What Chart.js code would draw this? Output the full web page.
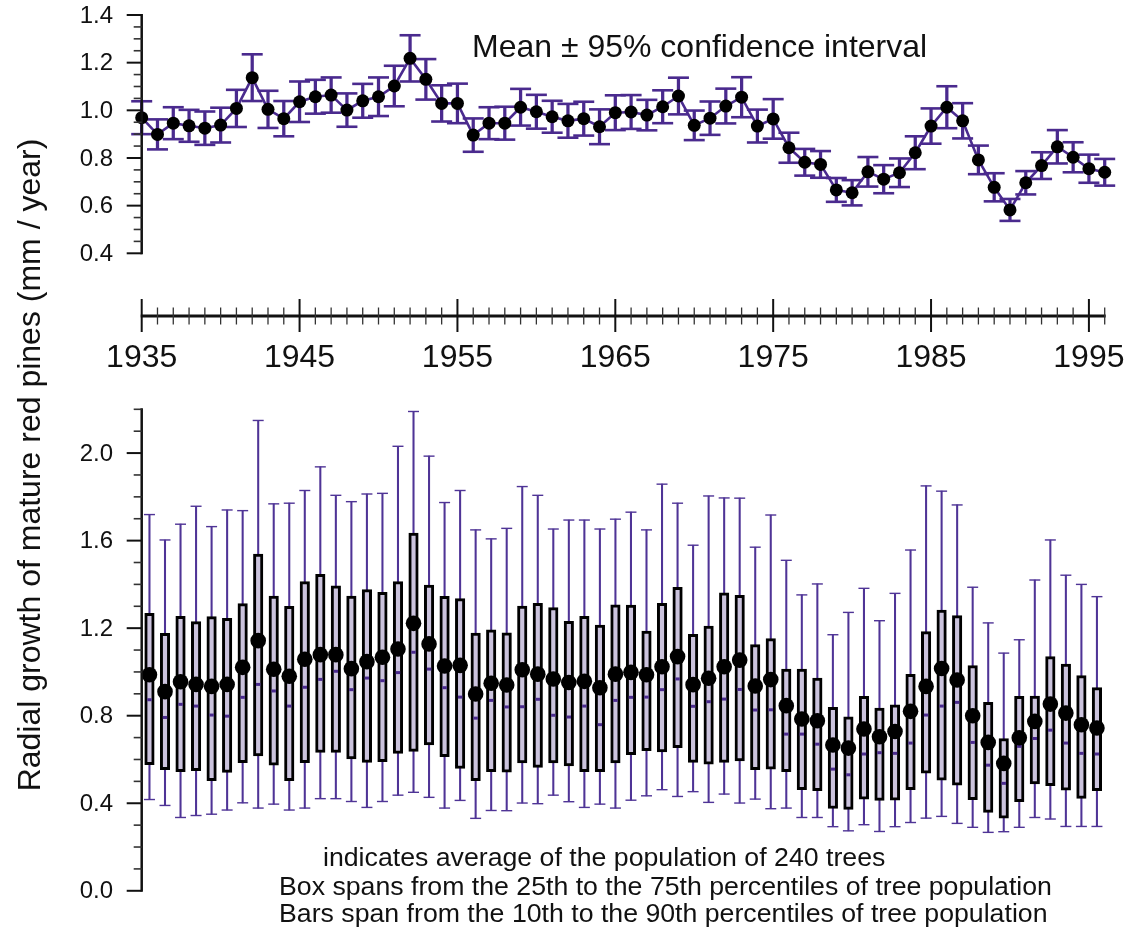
<!DOCTYPE html>
<html><head><meta charset="utf-8">
<script src="https://cdn.jsdelivr.net/npm/chart.js@4.4.1/dist/chart.umd.min.js"></script>
<style>
html,body{margin:0;padding:0;background:#fff;overflow:hidden}
#wrap{position:relative;width:1128px;height:930px}
canvas{position:absolute;left:0;top:0}
</style></head>
<body><div id="wrap"><canvas id="bot" width="1128" height="930"></canvas><canvas id="top" width="1128" height="930"></canvas></div>
<script>
// ---------- DATA ----------
const years = [1935,1936,1937,1938,1939,1940,1941,1942,1943,1944,1945,1946,1947,1948,1949,1950,1951,1952,1953,1954,1955,1956,1957,1958,1959,1960,1961,1962,1963,1964,1965,1966,1967,1968,1969,1970,1971,1972,1973,1974,1975,1976,1977,1978,1979,1980,1981,1982,1983,1984,1985,1986,1987,1988,1989,1990,1991,1992,1993,1994,1995,1996];

// top panel: mean and half-width of 95% CI
const meanGrowth = [0.969,0.899,0.946,0.935,0.925,0.938,1.008,1.137,1.004,0.965,1.036,1.057,1.064,1.001,1.040,1.057,1.102,1.218,1.130,1.029,1.029,0.896,0.946,0.946,1.013,0.994,0.973,0.956,0.965,0.931,0.990,0.993,0.980,1.015,1.060,0.937,0.967,1.018,1.055,0.934,0.964,0.843,0.782,0.773,0.666,0.654,0.742,0.711,0.738,0.822,0.934,1.013,0.956,0.792,0.677,0.582,0.696,0.768,0.847,0.803,0.755,0.740];
const ci95 = [0.069,0.063,0.067,0.067,0.070,0.073,0.078,0.098,0.078,0.074,0.085,0.071,0.074,0.070,0.071,0.081,0.085,0.097,0.085,0.076,0.083,0.070,0.067,0.069,0.077,0.071,0.067,0.071,0.071,0.073,0.073,0.071,0.064,0.069,0.077,0.062,0.070,0.073,0.084,0.069,0.083,0.063,0.056,0.056,0.050,0.053,0.062,0.059,0.060,0.069,0.074,0.088,0.074,0.060,0.059,0.046,0.049,0.056,0.070,0.063,0.059,0.056];

// bottom panel: percentiles, median and mean
const boxP90 = [1.719,1.603,1.675,1.757,1.664,1.740,1.737,2.149,1.768,1.771,1.829,1.937,1.807,1.778,1.813,1.816,2.031,2.190,1.986,1.774,1.829,1.649,1.608,1.656,1.847,1.807,1.653,1.694,1.694,1.653,1.698,1.730,1.649,1.858,1.771,1.579,1.804,1.795,1.794,1.570,1.717,1.510,1.352,1.402,1.170,1.272,1.382,1.234,1.359,1.557,1.850,1.826,1.763,1.387,1.224,1.086,1.147,1.420,1.603,1.442,1.400,1.344];
const boxP75 = [1.268,1.176,1.254,1.230,1.253,1.245,1.312,1.539,1.347,1.300,1.413,1.446,1.393,1.347,1.376,1.364,1.413,1.634,1.397,1.346,1.335,1.178,1.192,1.179,1.301,1.314,1.294,1.231,1.254,1.214,1.307,1.306,1.187,1.314,1.387,1.172,1.210,1.361,1.350,1.125,1.152,1.013,1.013,0.972,0.838,0.795,0.888,0.835,0.850,0.989,1.184,1.283,1.257,1.029,0.861,0.696,0.888,0.890,1.070,1.036,0.983,0.928];
const boxMedian = [0.873,0.792,0.852,0.844,0.803,0.798,0.884,0.943,0.913,0.844,0.930,0.966,1.003,0.919,0.972,0.960,0.997,1.090,1.013,0.928,0.885,0.789,0.870,0.840,0.841,0.875,0.802,0.794,0.844,0.759,0.870,0.884,0.885,0.919,0.968,0.843,0.864,0.876,0.920,0.826,0.827,0.716,0.716,0.670,0.556,0.530,0.625,0.631,0.628,0.675,0.803,0.844,0.861,0.678,0.574,0.491,0.660,0.696,0.734,0.675,0.628,0.625];
const boxP25 = [0.576,0.553,0.544,0.549,0.503,0.541,0.585,0.616,0.574,0.503,0.585,0.632,0.632,0.602,0.587,0.590,0.628,0.637,0.667,0.613,0.559,0.503,0.544,0.542,0.584,0.564,0.584,0.571,0.544,0.544,0.584,0.622,0.640,0.634,0.654,0.587,0.579,0.587,0.594,0.553,0.556,0.544,0.462,0.457,0.376,0.372,0.419,0.413,0.414,0.462,0.538,0.506,0.483,0.416,0.358,0.332,0.407,0.488,0.480,0.460,0.422,0.457];
const boxP10 = [0.417,0.390,0.335,0.344,0.350,0.369,0.402,0.378,0.396,0.369,0.378,0.421,0.421,0.408,0.381,0.408,0.437,0.450,0.427,0.378,0.413,0.331,0.367,0.366,0.401,0.398,0.437,0.407,0.381,0.396,0.378,0.414,0.434,0.462,0.431,0.453,0.404,0.442,0.401,0.419,0.375,0.378,0.335,0.335,0.293,0.274,0.302,0.271,0.293,0.312,0.332,0.340,0.308,0.290,0.267,0.270,0.290,0.335,0.328,0.294,0.294,0.294];
const boxMean = [0.987,0.910,0.955,0.943,0.934,0.943,1.021,1.143,1.012,0.980,1.058,1.079,1.079,1.015,1.047,1.067,1.105,1.222,1.128,1.027,1.030,0.899,0.948,0.940,1.010,0.990,0.968,0.952,0.957,0.928,0.990,0.998,0.987,1.024,1.070,0.942,0.971,1.024,1.054,0.936,0.965,0.846,0.785,0.777,0.666,0.652,0.739,0.704,0.728,0.820,0.934,1.016,0.963,0.800,0.678,0.582,0.699,0.774,0.853,0.812,0.759,0.744];

// tick labels
const yearTickLabels = ['1935','1945','1955','1965','1975','1985','1995'];
const topYTickLabels = ['0.4','0.6','0.8','1.0','1.2','1.4'];
const botYTickLabels = ['0.0','0.4','0.8','1.2','1.6','2.0'];

// texts
const topTitle = 'Mean \u00B1 95% confidence interval';
const yTitle = 'Radial growth of mature red pines (mm / year)';
const notes = [
  'indicates average of the population of 240 trees',
  'Box spans from the 25th to the 75th percentiles of tree population',
  'Bars span from the 10th to the 90th percentiles of tree population'
];

// ---------- STYLE ----------
const FONT = "'Liberation Sans', Arial, Helvetica, sans-serif";
const PURPLE = '#4a2a8e';
const WHISK = '#4f3496';
const BOXFILL = '#cbc3dd';
const AXIS = '#111111';
const MID_AXIS_Y = 316;

function drawYAxis(ctx, yScale, x0, vmin, vmax, minorStep, labels) {
  ctx.save();
  ctx.strokeStyle = AXIS;
  ctx.lineWidth = 2.5;
  ctx.beginPath();
  ctx.moveTo(x0, yScale.getPixelForValue(vmax) - 1);
  ctx.lineTo(x0, yScale.getPixelForValue(vmin) + 1);
  ctx.stroke();
  const majors = labels.map(Number);
  const n = Math.round((vmax - vmin) / minorStep);
  for (let i = 0; i <= n; i++) {
    const v = +(vmin + i * minorStep).toFixed(4);
    const isMajor = majors.some(m => Math.abs(m - v) < 1e-6);
    const py = yScale.getPixelForValue(v);
    ctx.lineWidth = isMajor ? 2 : 1.6;
    ctx.strokeStyle = isMajor ? AXIS : '#333';
    ctx.beginPath();
    ctx.moveTo(x0 - (isMajor ? 15 : 8), py);
    ctx.lineTo(x0, py);
    ctx.stroke();
  }
  ctx.fillStyle = '#111';
  ctx.font = '24px ' + FONT;
  ctx.textAlign = 'right';
  ctx.textBaseline = 'middle';
  labels.forEach(l => ctx.fillText(l, 113, yScale.getPixelForValue(Number(l)) + 1));
  ctx.restore();
}

const topAxesPlugin = {
  id: 'topAxes',
  afterDraw(chart) {
    const ctx = chart.ctx;
    const xs = chart.scales.x, ys = chart.scales.y;
    drawYAxis(ctx, ys, chart.chartArea.left, 0.4, 1.4, 0.05, topYTickLabels);
    // middle year axis
    ctx.save();
    ctx.strokeStyle = AXIS;
    ctx.lineWidth = 3;
    ctx.beginPath();
    ctx.moveTo(xs.getPixelForValue(years[0]) - 1, MID_AXIS_Y);
    ctx.lineTo(xs.getPixelForValue(years[years.length - 1]) + 1, MID_AXIS_Y);
    ctx.stroke();
    years.forEach(yr => {
      const isMajor = yearTickLabels.includes(String(yr));
      const px = xs.getPixelForValue(yr);
      ctx.lineWidth = isMajor ? 2 : 1.3;
      ctx.strokeStyle = isMajor ? AXIS : '#333';
      ctx.beginPath();
      ctx.moveTo(px, MID_AXIS_Y - (isMajor ? 17 : 8.5));
      ctx.lineTo(px, MID_AXIS_Y + (isMajor ? 16 : 8.5));
      ctx.stroke();
    });
    ctx.fillStyle = '#111';
    ctx.font = '32px ' + FONT;
    ctx.textAlign = 'center';
    ctx.textBaseline = 'alphabetic';
    yearTickLabels.forEach(l => ctx.fillText(l, xs.getPixelForValue(Number(l)), 367));
    // title
    ctx.textAlign = 'left';
    ctx.font = '32px ' + FONT;
    ctx.fillText(topTitle, 472, 57);
    // y title
    ctx.save();
    ctx.translate(31, 465);
    ctx.rotate(-Math.PI / 2);
    ctx.textAlign = 'center';
    ctx.textBaseline = 'middle';
    ctx.font = '32px ' + FONT;
    ctx.fillText(yTitle, 0, 0);
    ctx.restore();
    ctx.restore();
  }
};

const botAxesPlugin = {
  id: 'botAxes',
  afterDraw(chart) {
    const ctx = chart.ctx;
    drawYAxis(ctx, chart.scales.y, chart.chartArea.left, 0.0, 2.2, 0.1, botYTickLabels);
    ctx.save();
    ctx.fillStyle = '#111';
    ctx.font = '26.7px ' + FONT;
    ctx.textAlign = 'left';
    ctx.textBaseline = 'alphabetic';
    ctx.fillText(notes[0], 323, 866);
    ctx.fillText(notes[1], 279, 895);
    ctx.fillText(notes[2], 279, 922);
    ctx.restore();
  }
};

Chart.defaults.font.family = FONT;

// ---------- TOP CHART ----------
new Chart(document.getElementById('top'), {
  type: 'line',
  data: {
    datasets: [
      {
        type: 'line',
        data: years.map((yr, i) => ({ x: yr, y: meanGrowth[i] })),
        borderColor: PURPLE, borderWidth: 2.6, tension: 0,
        pointRadius: 6.5, pointBackgroundColor: '#000', pointBorderWidth: 0,
        clip: false, order: 0
      },
      {
        type: 'line', showLine: false,
        data: years.map((yr, i) => ({ x: yr, y: meanGrowth[i] + ci95[i] }))
          .concat(years.map((yr, i) => ({ x: yr, y: meanGrowth[i] - ci95[i] }))),
        pointStyle: 'line', pointRadius: 10.5, pointBorderWidth: 2.6,
        pointBorderColor: PURPLE, pointBackgroundColor: PURPLE,
        clip: false, order: 1
      },
      {
        type: 'bar',
        data: years.map((yr, i) => ({ x: yr, y: [meanGrowth[i] - ci95[i], meanGrowth[i] + ci95[i]] })),
        backgroundColor: PURPLE, borderWidth: 0, barThickness: 2.6, grouped: false,
        clip: false, order: 2
      }
    ]
  },
  options: {
    responsive: false, animation: false, devicePixelRatio: 1, events: [],
    layout: { padding: { left: 141.7, right: 23.3, top: 15, bottom: 676.7 } },
    plugins: { legend: { display: false }, tooltip: { enabled: false }, title: { display: false } },
    scales: {
      x: { type: 'linear', min: 1935, max: 1996, offset: false, display: false },
      y: { type: 'linear', min: 0.4, max: 1.4, display: false }
    }
  },
  plugins: [topAxesPlugin]
});

// ---------- BOTTOM CHART ----------
new Chart(document.getElementById('bot'), {
  type: 'line',
  data: {
    datasets: [
      {
        type: 'line', showLine: false,
        data: years.map((yr, i) => ({ x: yr, y: boxMean[i] })),
        pointRadius: 7.8, pointBackgroundColor: '#000', pointBorderWidth: 0,
        clip: false, order: 0
      },
      {
        type: 'line', showLine: false,
        data: years.map((yr, i) => ({ x: yr, y: boxMedian[i] })),
        pointStyle: 'line', pointRadius: 2.2, pointBorderWidth: 3,
        pointBorderColor: PURPLE, pointBackgroundColor: PURPLE,
        clip: false, order: 1
      },
      {
        type: 'bar',
        data: years.map((yr, i) => ({ x: yr, y: [boxP25[i], boxP75[i]] })),
        backgroundColor: BOXFILL, borderColor: '#000', borderWidth: 3,
        borderSkipped: false, barThickness: 9.5, grouped: false,
        clip: false, order: 2
      },
      {
        type: 'line', showLine: false,
        data: years.map((yr, i) => ({ x: yr, y: boxP90[i] }))
          .concat(years.map((yr, i) => ({ x: yr, y: boxP10[i] }))),
        pointStyle: 'line', pointRadius: 5.5, pointBorderWidth: 1.4,
        pointBorderColor: WHISK, pointBackgroundColor: WHISK,
        clip: false, order: 3
      },
      {
        type: 'bar',
        data: years.map((yr, i) => ({ x: yr, y: [boxP10[i], boxP90[i]] })),
        backgroundColor: WHISK, borderWidth: 0, barThickness: 1.4, grouped: false,
        clip: false, order: 4
      }
    ]
  },
  options: {
    responsive: false, animation: false, devicePixelRatio: 1, events: [],
    layout: { padding: { left: 141.7, right: 23.3, top: 409.3, bottom: 39.2 } },
    plugins: { legend: { display: false }, tooltip: { enabled: false }, title: { display: false } },
    scales: {
      x: { type: 'linear', min: 1934.5, max: 1996.5, offset: false, display: false },
      y: { type: 'linear', min: 0, max: 2.2, display: false }
    }
  },
  plugins: [botAxesPlugin]
});
</script>
</body></html>
